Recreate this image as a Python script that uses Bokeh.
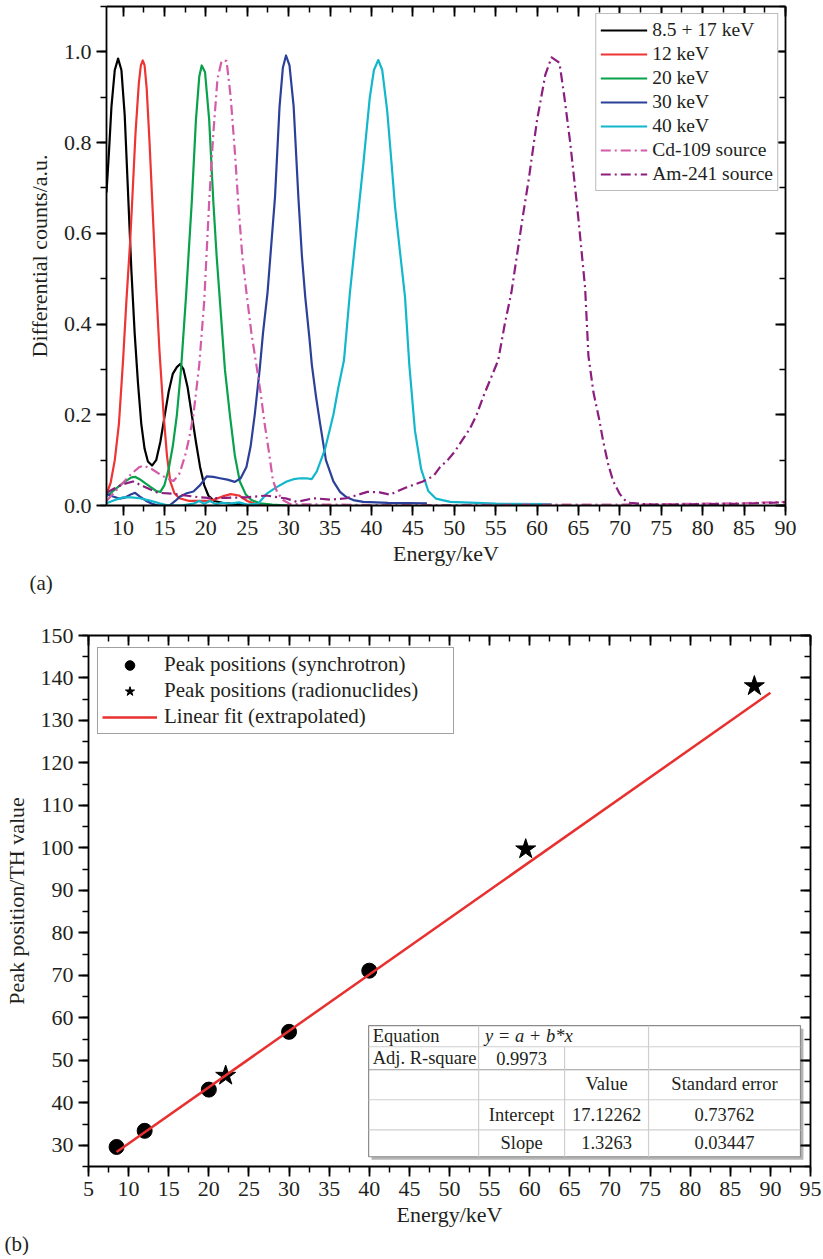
from bokeh.plotting import figure
from bokeh.models import (Range1d, LinearAxis, SingleIntervalTicker, Legend, LegendItem,
                          PrintfTickFormatter, CustomJSTickFormatter, Title)
from bokeh.embed import file_html
from bokeh.resources import INLINE
from bokeh.core.properties import value

# ---------------- data: panel (a) ----------------
e_85_17 = [8.0, 8.3, 8.6, 9.0, 9.4, 9.8, 10.2, 10.6, 11.0, 11.4, 11.8, 12.2, 12.6, 13.0, 13.5,
           14.0, 14.5, 15.0, 15.5, 16.0, 16.5, 16.9, 17.3, 17.8, 18.3, 18.8, 19.3, 19.8, 20.3,
           21.0, 22.0, 23.0, 24.0, 25.0]
c_85_17 = [0.69, 0.78, 0.88, 0.96, 0.985, 0.96, 0.86, 0.69, 0.52, 0.38, 0.27, 0.18, 0.125, 0.097,
           0.088, 0.10, 0.14, 0.195, 0.25, 0.29, 0.305, 0.312, 0.30, 0.26, 0.20, 0.14, 0.085, 0.045,
           0.022, 0.01, 0.006, 0.004, 0.003, 0.001]

e_12 = [8.0, 8.5, 9.0, 9.5, 10.0, 10.4, 10.85, 11.1, 11.5, 11.9, 12.15, 12.38, 12.6, 12.85, 13.2,
        13.6, 14.0, 14.4, 14.9, 15.3, 15.7, 16.2, 16.8, 18.0, 20.0, 21.0, 22.0, 23.0, 24.0, 25.0,
        26.0, 27.0]
c_12 = [0.025, 0.05, 0.10, 0.18, 0.32, 0.45, 0.58, 0.67, 0.82, 0.93, 0.97, 0.981, 0.97, 0.92, 0.80,
        0.64, 0.48, 0.34, 0.20, 0.11, 0.053, 0.027, 0.016, 0.01, 0.01, 0.013, 0.02, 0.025, 0.022,
        0.01, 0.003, 0.0]

e_20 = [8.0, 9.0, 10.0, 11.0, 11.5, 12.0, 13.0, 14.0, 14.5, 15.0, 15.5, 16.0, 16.5, 17.0, 17.6,
        18.3, 18.8, 19.2, 19.5, 19.9, 20.4, 20.9, 21.3, 21.7, 22.3, 22.9, 23.5, 24.1, 24.8, 25.5,
        26.5, 28.0, 30.0]
c_20 = [0.02, 0.035, 0.05, 0.062, 0.063, 0.058, 0.045, 0.032, 0.03, 0.045, 0.08, 0.13, 0.2, 0.3,
        0.46, 0.67, 0.85, 0.945, 0.97, 0.955, 0.85, 0.67, 0.55, 0.45, 0.30, 0.2, 0.11, 0.053, 0.025,
        0.012, 0.005, 0.002, 0.0]

e_30 = [8.0, 8.8, 9.6, 10.3, 11.0, 11.45, 12.0, 12.8, 13.5, 14.2, 15.6, 16.3, 16.9, 17.7, 18.5,
        19.3, 20.1, 20.9, 21.7, 22.6, 23.5, 24.2, 24.9, 25.4, 25.9, 26.5, 26.9, 27.45, 28.35, 28.9,
        29.3, 29.68, 30.1, 30.6, 31.17, 31.6, 32.0, 32.5, 32.8, 33.3, 33.8, 34.5, 35.4, 36.2, 37.0,
        37.8, 39.0, 42.0, 46.7]
c_30 = [0.026, 0.02, 0.015, 0.018, 0.025, 0.028, 0.02, 0.01, 0.004, 0.0, 0.0, 0.01, 0.02, 0.027,
        0.031, 0.045, 0.064, 0.063, 0.06, 0.057, 0.052, 0.06, 0.085, 0.13, 0.2, 0.3, 0.38, 0.47,
        0.68, 0.88, 0.965, 0.992, 0.97, 0.88, 0.68, 0.55, 0.46, 0.37, 0.31, 0.24, 0.18, 0.10, 0.053,
        0.03, 0.018, 0.012, 0.008, 0.006, 0.005]

e_40 = [8.0, 9.0, 10.0, 11.0, 12.0, 13.0, 14.0, 14.5, 15.5, 17.0, 18.5, 19.2, 19.8, 20.5, 21.2,
        22.0, 23.0, 24.0, 25.0, 26.3, 27.35, 28.5, 29.76, 30.6, 31.4, 32.1, 32.78, 33.4, 33.9, 34.4,
        35.4, 36.0, 36.68, 37.4, 38.2, 39.0, 39.8, 40.3, 40.82, 41.3, 41.9, 42.4, 42.84, 43.5, 44.05,
        44.57, 45.25, 46.0, 46.86, 47.8, 49.5, 55.0, 61.75]
c_40 = [0.005, 0.012, 0.018, 0.018, 0.016, 0.012, 0.007, 0.004, 0.0, 0.0, 0.004, 0.01, 0.004, 0.01,
        0.003, 0.006, 0.004, 0.007, 0.002, 0.004, 0.026, 0.04, 0.053, 0.058, 0.06, 0.06, 0.058,
        0.075, 0.1, 0.125, 0.2, 0.26, 0.32, 0.47, 0.61, 0.75, 0.9, 0.96, 0.982, 0.96, 0.87, 0.76,
        0.66, 0.55, 0.46, 0.31, 0.165, 0.08, 0.032, 0.015, 0.008, 0.004, 0.003]

e_cd109 = [8.0, 9.0, 10.0, 11.0, 12.0, 12.5, 13.5, 14.5, 15.5, 16.1, 16.8, 17.5, 18.0, 18.5, 19.2,
           19.8, 20.4, 20.9, 21.4, 21.9, 22.5, 23.0, 23.5, 23.9, 24.4, 24.9, 25.5, 26.1, 26.6, 27.1,
           27.6, 28.1, 28.6, 29.3, 30.2, 40.0, 50.0, 60.0, 70.0, 80.0, 85.0, 88.0, 90.0]
c_cd109 = [0.01, 0.03, 0.05, 0.07, 0.085, 0.088, 0.08, 0.068, 0.058, 0.054, 0.07, 0.11, 0.15, 0.2,
           0.31, 0.45, 0.67, 0.82, 0.94, 0.98, 0.98, 0.90, 0.78, 0.67, 0.55, 0.47, 0.38, 0.31, 0.25,
           0.18, 0.12, 0.055, 0.03, 0.012, 0.003, 0.001, 0.001, 0.002, 0.002, 0.004, 0.005, 0.007, 0.008]

e_am241 = [8.0, 9.0, 10.0, 11.2, 12.5, 14.2, 16.1, 17.5, 19.3, 21.0, 22.5, 24.9, 27.3, 29.8, 31.0,
           33.0, 35.0, 37.0, 39.5, 41.0, 42.2, 44.25, 46.2, 47.5, 48.3, 49.2, 50.1, 51.0, 51.9, 52.7,
           53.5, 54.4, 55.3, 56.1, 56.9, 58.3, 59.0, 60.0, 61.0, 61.75, 62.7, 63.3, 64.0, 64.6, 65.0,
           65.8, 66.2, 66.8, 67.5, 68.0, 68.6, 69.2, 70.0, 70.6, 71.2, 73.0, 75.0, 80.0, 85.0, 88.0, 90.0]
c_am241 = [0.028, 0.038, 0.047, 0.053, 0.042, 0.028, 0.026, 0.022, 0.018, 0.016, 0.017, 0.018,
           0.022, 0.015, 0.008, 0.016, 0.013, 0.016, 0.03, 0.029, 0.024, 0.04, 0.053, 0.065, 0.085,
           0.1, 0.12, 0.145, 0.17, 0.2, 0.24, 0.28, 0.32, 0.40, 0.47, 0.64, 0.72, 0.85, 0.95, 0.988,
           0.976, 0.90, 0.80, 0.70, 0.63, 0.48, 0.33, 0.25, 0.19, 0.14, 0.09, 0.053, 0.025, 0.012,
           0.006, 0.003, 0.002, 0.003, 0.004, 0.006, 0.007]

series_labels = ["8.5 + 17 keV", "12 keV", "20 keV", "30 keV", "40 keV", "Cd-109 source", "Am-241 source"]

# ---------------- data: panel (b) ----------------
sync_energy = [8.5, 12, 20, 30, 40]
sync_peak = [29.6, 33.4, 43.1, 56.7, 71.1]
radio_energy = [22.1, 59.5, 88.0]
radio_peak = [46.4, 99.7, 138.1]
fit_energy = [8.5, 90.0]
fit_peak = [28.4, 136.5]
legend_b = ["Peak positions (synchrotron)", "Peak positions (radionuclides)", "Linear fit (extrapolated)"]

table_col1 = ["Equation", "Adj. R-square"]
equation_text = "y = a + b*x"
adj_r2 = "0.9973"
table_header = ["Value", "Standard error"]
param_names = ["Intercept", "Slope"]
param_values = ["17.12262", "1.3263"]
param_errors = ["0.73762", "0.03447"]

# ---------------- styling ----------------
FONT = "'Liberation Serif'"
TXT = "#231f20"


def style_axis(ax, ticker, mirror=False, fmt=None, label=None, label_standoff=8):
    ax.ticker = ticker
    ax.axis_line_width = 1.8
    ax.axis_line_color = "black"
    ax.major_tick_line_width = 1.8
    ax.minor_tick_line_width = 1.5
    ax.major_tick_line_color = "black"
    ax.minor_tick_line_color = "black"
    if mirror:
        ax.major_tick_in = 10
        ax.major_tick_out = 0
        ax.minor_tick_in = 6
        ax.minor_tick_out = 0
        ax.formatter = CustomJSTickFormatter(code="return ''")
        ax.major_label_text_font_size = "1px"
        ax.major_label_standoff = 0
    else:
        ax.major_tick_in = 0
        ax.major_tick_out = 10
        ax.minor_tick_in = 0
        ax.minor_tick_out = 6
        if fmt is not None:
            ax.formatter = fmt
        ax.major_label_text_font = FONT
        ax.major_label_text_font_size = "22px"
        ax.major_label_text_color = TXT
        ax.major_label_standoff = 5
        ax.axis_label = label
        ax.axis_label_text_font = FONT
        ax.axis_label_text_font_size = "22px"
        ax.axis_label_text_font_style = "normal"
        ax.axis_label_text_color = TXT
        ax.axis_label_standoff = label_standoff


# ---------------- panel (a) ----------------
p1 = figure(frame_width=679, frame_height=499, x_range=Range1d(8, 90), y_range=Range1d(0, 1.1),
            output_backend="svg", toolbar_location=None,
            min_border_left=106, min_border_right=30, min_border_top=6, min_border_bottom=0)
p1.xgrid.visible = False
p1.ygrid.visible = False
p1.outline_line_color = None
p1.background_fill_color = "white"

style_axis(p1.xaxis[0], SingleIntervalTicker(interval=5, num_minor_ticks=2), label="Energy/keV",
           label_standoff=3)
style_axis(p1.yaxis[0], SingleIntervalTicker(interval=0.2, num_minor_ticks=2),
           fmt=PrintfTickFormatter(format="%.1f"), label="Differential counts/a.u.", label_standoff=9)
ax_top = LinearAxis()
style_axis(ax_top, SingleIntervalTicker(interval=5, num_minor_ticks=2), mirror=True)
p1.add_layout(ax_top, "above")
ax_right = LinearAxis()
style_axis(ax_right, SingleIntervalTicker(interval=0.2, num_minor_ticks=2), mirror=True)
p1.add_layout(ax_right, "right")

colors = ["#000000", "#ee3434", "#08a24b", "#2b4199", "#12b7cc", "#d45ba8", "#8b1e7f"]
xs = [e_85_17, e_12, e_20, e_30, e_40, e_cd109, e_am241]
ys = [c_85_17, c_12, c_20, c_30, c_40, c_cd109, c_am241]
dashes = ["solid"] * 5 + ["10 4 2 4", "10 4 2 4"]
items = []
for x, y, col, dsh, lab in zip(xs, ys, colors, dashes, series_labels):
    r = p1.line(x, y, line_color=col, line_width=2.2, line_dash=dsh, line_join="round")
    items.append(LegendItem(label=lab, renderers=[r]))

leg1 = Legend(items=items, location="top_right", margin=7, padding=4, spacing=0,
              label_height=24, glyph_height=24, glyph_width=47, label_standoff=5,
              label_text_font=FONT, label_text_font_size="19.5px", label_text_color=TXT,
              border_line_color="#777777", border_line_width=1, background_fill_alpha=1)
p1.add_layout(leg1)
p1.add_layout(Title(text="(a)", align="left", offset=-77, text_font=FONT, text_font_size="21px",
                    text_font_style="normal", text_color=TXT, standoff=0), "below")

# ---------------- panel (b) ----------------
p2 = figure(frame_width=722, frame_height=531, x_range=Range1d(5, 95), y_range=Range1d(25, 150),
            output_backend="svg", toolbar_location=None,
            min_border_left=87, min_border_right=14, min_border_top=41, min_border_bottom=0)
p2.xgrid.visible = False
p2.ygrid.visible = False
p2.outline_line_color = None

style_axis(p2.xaxis[0], SingleIntervalTicker(interval=5, num_minor_ticks=2), label="Energy/keV",
           label_standoff=3)
style_axis(p2.yaxis[0], SingleIntervalTicker(interval=10, num_minor_ticks=2),
           label="Peak position/TH value", label_standoff=9)
ax_top2 = LinearAxis()
style_axis(ax_top2, SingleIntervalTicker(interval=5, num_minor_ticks=2), mirror=True)
p2.add_layout(ax_top2, "above")
ax_right2 = LinearAxis()
style_axis(ax_right2, SingleIntervalTicker(interval=10, num_minor_ticks=2), mirror=True)
p2.add_layout(ax_right2, "right")

r_sync = p2.scatter(sync_energy, sync_peak, marker="circle", size=15, color="black")
r_radio = p2.scatter(radio_energy, radio_peak, marker="star", size=21, color="black")
r_fit = p2.line(fit_energy, fit_peak, line_color="#e8302f", line_width=2.5)

leg2 = Legend(items=[LegendItem(label=legend_b[0], renderers=[r_sync]),
                     LegendItem(label=legend_b[1], renderers=[r_radio]),
                     LegendItem(label=legend_b[2], renderers=[r_fit])],
              location=(9, 432), padding=4, spacing=1, label_height=24, glyph_height=24,
              glyph_width=55, label_standoff=7, label_width=285,
              label_text_font=FONT, label_text_font_size="21px", label_text_color=TXT,
              border_line_color="#444444", border_line_width=1, background_fill_alpha=1)
p2.add_layout(leg2)

# results table (inset)
tx = [39.92, 53.63, 64.35, 74.81, 93.75]          # column borders (data units)
ty = [58.14, 53.19, 47.77, 40.71, 33.64, 27.29]   # row borders (data units)
p2.quad(left=tx[0] + 0.37, right=tx[4] + 0.37, top=ty[0] - 0.7, bottom=ty[5] - 0.7,
        fill_color="#b5b5b5", line_color=None)
p2.quad(left=tx[0], right=tx[4], top=ty[0], bottom=ty[5], fill_color="white",
        line_color="#8a8a8a", line_width=1.2)
p2.segment(x0=[tx[0]] * 4, x1=[tx[4]] * 4, y0=ty[1:5], y1=ty[1:5],
           line_color=["#cfcfcf", "#9a9a9a", "#cfcfcf", "#cfcfcf"], line_width=1.2)
p2.segment(x0=[tx[1], tx[2], tx[3]], x1=[tx[1], tx[2], tx[3]], y0=[ty[5]] * 3,
           y1=[ty[0], ty[1], ty[0]], line_color="#cfcfcf", line_width=1.2)

row_mid = [55.66, 50.48, 44.48, 37.18, 30.58]
tfont = dict(text_font=value(FONT), text_font_size="18.5px", text_color=TXT, text_baseline="middle")
p2.text(x=[tx[0] + 0.5] * 2, y=row_mid[:2], text=table_col1, text_align="left", **tfont)
p2.text(x=[tx[1] + 0.8], y=[row_mid[0]], text=[equation_text], text_align="left",
        text_font_style="italic", **tfont)
c2, c3, c4 = 58.99, 69.58, 84.28
p2.text(x=[c2], y=[row_mid[1]], text=[adj_r2], text_align="center", **tfont)
p2.text(x=[c3, c4], y=[row_mid[2]] * 2, text=table_header, text_align="center", **tfont)
p2.text(x=[c2, c2], y=row_mid[3:], text=param_names, text_align="center", **tfont)
p2.text(x=[c3, c3], y=row_mid[3:], text=param_values, text_align="center", **tfont)
p2.text(x=[c4, c4], y=row_mid[3:], text=param_errors, text_align="center", **tfont)

p2.add_layout(Title(text="(b)", align="left", offset=-84, text_font=FONT, text_font_size="21px",
                    text_font_style="normal", text_color=TXT, standoff=0), "below")

open("out.html", "w").write(file_html([p1, p2], INLINE))
